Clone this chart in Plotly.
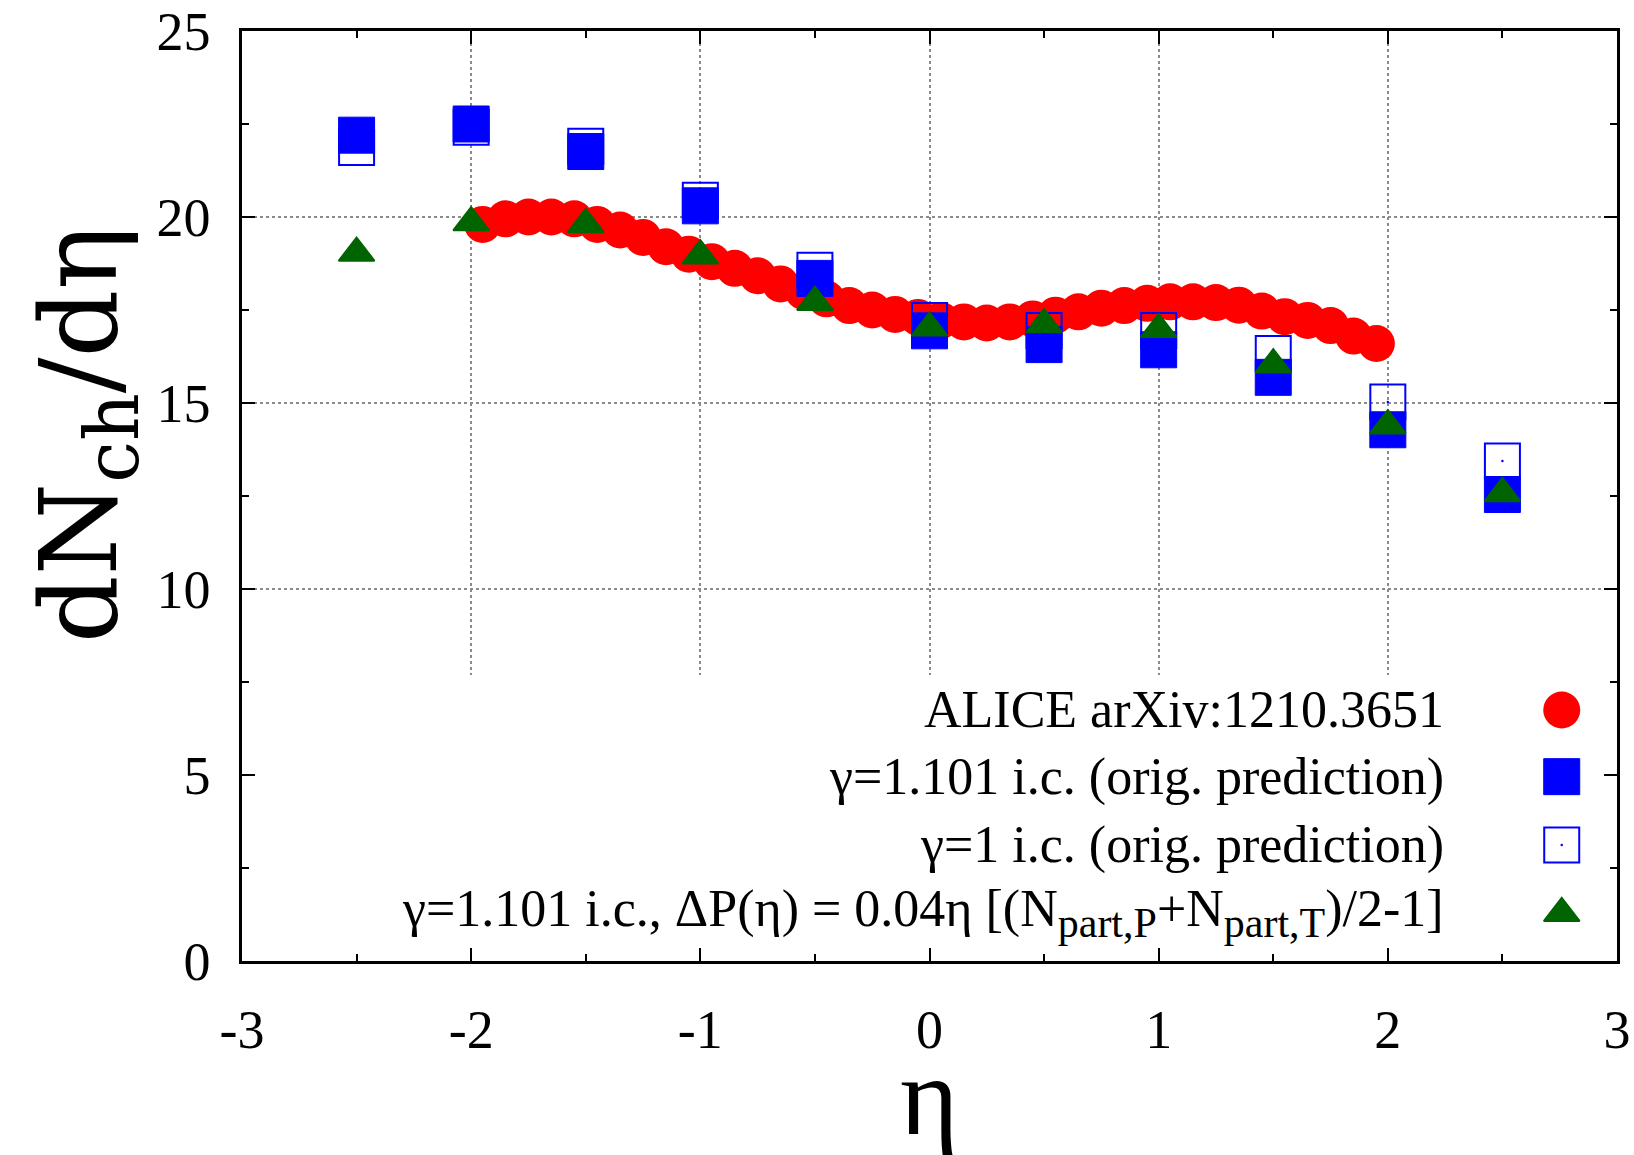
import plotly.graph_objects as go

# ALICE p-Pb charged-particle pseudorapidity density
eta_alice = [-1.95, -1.85, -1.75, -1.65, -1.55, -1.45, -1.35, -1.25, -1.15, -1.05,
             -0.95, -0.85, -0.75, -0.65, -0.55, -0.45, -0.35, -0.25, -0.15, -0.05,
             0.05, 0.15, 0.25, 0.35, 0.45, 0.55, 0.65, 0.75, 0.85, 0.95,
             1.05, 1.15, 1.25, 1.35, 1.45, 1.55, 1.65, 1.75, 1.85, 1.95]
dn_alice = [19.80, 19.95, 20.00, 20.00, 19.95, 19.80, 19.65, 19.45, 19.20, 19.00,
            18.80, 18.62, 18.42, 18.20, 18.00, 17.80, 17.62, 17.50, 17.38, 17.30,
            17.22, 17.18, 17.15, 17.18, 17.26, 17.36, 17.45, 17.55, 17.62, 17.68,
            17.72, 17.72, 17.70, 17.63, 17.47, 17.32, 17.22, 17.08, 16.80, 16.60]

# model calculations
eta_model = [-2.5, -2.0, -1.5, -1.0, -0.5, 0.0, 0.5, 1.0, 1.5, 2.0, 2.5]
dn_gamma1101 = [22.20, 22.50, 21.76, 20.30, 18.35, 16.94, 16.57, 16.43, 15.69, 14.28, 12.54]
dn_gamma1 = [21.87, 22.41, 21.90, 20.45, 18.57, 17.22, 16.95, 16.95, 16.33, 15.03, 13.44]
dn_deltaP = [19.03, 19.85, 19.80, 18.96, 17.71, 17.02, 17.11, 16.98, 16.03, 14.39, 12.57]

SUB = "<sub><span style='font-size:42px'>{}</span></sub>"
labels = [
    "ALICE arXiv:1210.3651",
    "\u03b3=1.101 i.c. (orig. prediction)",
    "\u03b3=1 i.c. (orig. prediction)",
    "\u03b3=1.101 i.c., \u0394P(\u03b7) = 0.04\u03b7 [(N" + SUB.format("part,P")
    + "+N" + SUB.format("part,T") + ")/2-1]",
]

x_ticks = [-3, -2, -1, 0, 1, 2, 3]
y_ticks = [0, 5, 10, 15, 20, 25]

RED = "#ff0000"
BLUE = "#0000ff"
GREEN = "#006400"
SERIF = "Liberation Serif, Times New Roman, serif"

styles = [
    dict(symbol="circle", size=37, color=RED, line=dict(width=0)),
    dict(symbol="square", size=36, color=BLUE, line=dict(width=1, color=BLUE)),
    dict(symbol="square-open", size=35, color=BLUE, line=dict(width=2, color=BLUE)),
    dict(symbol="triangle-up", size=31, color=GREEN, line=dict(width=2, color=GREEN)),
]
dot_style = dict(symbol="circle", size=2.5, color=BLUE, line=dict(width=0))

fig = go.Figure()

series = [
    (eta_alice, dn_alice),
    (eta_model, dn_gamma1101),
    (eta_model, dn_gamma1),
    (eta_model, dn_deltaP),
]
for i, (xs, ys) in enumerate(series):
    fig.add_trace(go.Scatter(x=xs, y=ys, mode="markers", marker=styles[i],
                             showlegend=False, hoverinfo="x+y"))
    if i == 2:
        # centre dot of the open squares
        fig.add_trace(go.Scatter(x=xs, y=ys, mode="markers", marker=dot_style,
                                 showlegend=False, hoverinfo="skip"))

# key block in the lower right corner: symbol column on the right,
# right-aligned labels to its left
X_MIN, X_MAX, Y_MIN, Y_MAX = -3, 3, 0, 25
key_fx = 0.9598
key_fy = [0.2699, 0.1982, 0.1247, 0.0513]
label_fx = 0.8756
for i, fy in enumerate(key_fy):
    kx = X_MIN + (X_MAX - X_MIN) * key_fx
    ky = Y_MIN + (Y_MAX - Y_MIN) * fy
    fig.add_trace(go.Scatter(x=[kx], y=[ky], mode="markers", marker=styles[i],
                             showlegend=False, hoverinfo="skip"))
    if i == 2:
        fig.add_trace(go.Scatter(x=[kx], y=[ky], mode="markers", marker=dot_style,
                                 showlegend=False, hoverinfo="skip"))
    fig.add_annotation(x=X_MIN + (X_MAX - X_MIN) * label_fx, y=ky, text=labels[i],
                       showarrow=False, xanchor="right", yanchor="middle",
                       font=dict(family=SERIF, size=52, color="black"))

# opaque key background hides the grid below it
fig.add_shape(type="rect", xref="x", yref="y", x0=X_MIN, x1=X_MAX, y0=Y_MIN, y1=7.69,
              fillcolor="white", line=dict(width=0), layer="between")

axis_common = dict(
    showline=True, linecolor="black", linewidth=2.5, mirror="allticks",
    ticks="inside", ticklen=13, tickwidth=2, tickcolor="black",
    showgrid=True, gridcolor="#8a8a8a", gridwidth=1.6, griddash="dot",
    zeroline=False, automargin=False,
    tickfont=dict(family=SERIF, size=54, color="black"),
)

fig.update_layout(
    width=1634, height=1155,
    margin=dict(l=242, r=17, t=31, b=194, autoexpand=False),
    paper_bgcolor="white", plot_bgcolor="white",
    xaxis=dict(range=[X_MIN, X_MAX], tickvals=x_ticks, ticktext=[str(v) for v in x_ticks],
               minor=dict(dtick=0.5, ticks="inside", ticklen=7, tickwidth=2,
                          tickcolor="black", showgrid=False),
               ticklabelstandoff=19, **axis_common),
    yaxis=dict(range=[Y_MIN, Y_MAX], tickvals=y_ticks, ticktext=[str(v) for v in y_ticks],
               minor=dict(dtick=2.5, ticks="inside", ticklen=7, tickwidth=2,
                          tickcolor="black", showgrid=False),
               ticklabelstandoff=18, **axis_common),
    showlegend=False,
)

# axis titles
fig.add_annotation(x=0.5, y=-0.145, xref="paper", yref="paper", text="\u03b7",
                   showarrow=False, xanchor="center", yanchor="middle",
                   font=dict(family=SERIF, size=112, color="black"))
fig.add_annotation(x=-0.113, y=0.566, xref="paper", yref="paper",
                   text="dN<sub>ch</sub>/d\u03b7", textangle=-90,
                   showarrow=False, xanchor="center", yanchor="middle",
                   font=dict(family="DejaVu Serif", size=106, color="black"))

fig.write_html("out.html")
